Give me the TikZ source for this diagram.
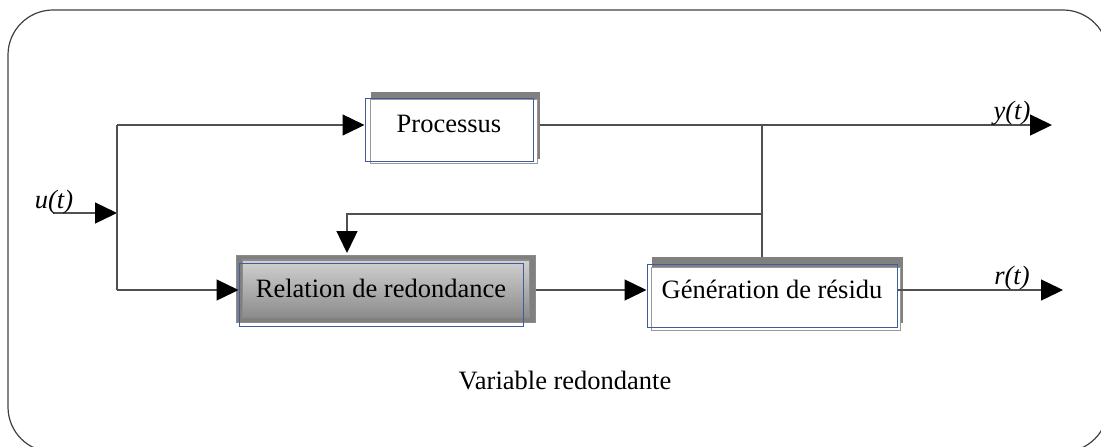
\documentclass[tikz,border=0pt]{standalone}
\usepackage{fontspec}
\setmainfont{Liberation Serif}
\usetikzlibrary{arrows.meta, backgrounds}

\definecolor{blueline}{RGB}{64,92,156}
\definecolor{wiregray}{RGB}{80,80,80}
\definecolor{shadowgray}{RGB}{128,128,128}

\begin{document}
\begin{tikzpicture}[
  x=0.5pt, y=-0.5pt,
  every node/.style={font=\fontsize{13.25}{15}\selectfont},
  wire/.style={draw=wiregray, line width=0.7pt},
  arrowline/.style={wire, -{Triangle[length=11pt, width=10.5pt, color=black]}},
  blockbox/.style={draw=blueline, line width=0.5pt, minimum height=31.5pt, inner sep=0pt, text height=9pt, text depth=6.5pt},
  shadowbox/.style={fill=shadowgray},
  plainbox/.style={draw=black!40, fill=white, line width=0.6pt},
  shadebox/.style={draw=black!45, line width=0.6pt, top color=black!18, middle color=white, bottom color=black!45},
  sig/.style={font=\fontsize{13.25}{15}\selectfont\itshape, inner sep=0pt}
]
\useasboundingbox (0,0) rectangle (1101,446);
\draw[black!75, line width=0.6pt, rounded corners=22.5pt] (8,10) rectangle (1108,452);

% blocks
\node[blockbox, minimum width=84pt] (proc) at (449,129.5) {Processus};
\node[blockbox, minimum width=142pt] (rel) at (381,295) {Relation de redondance};
\node[blockbox, minimum width=125pt] (gen) at (772,295.5) {Génération de résidu};

% shadows and fills behind the blocks
\begin{scope}[on background layer]
  \fill[shadowbox] ([shift={(6,-6)}]proc.north west) rectangle ([shift={(6,-3)}]proc.south east);
  \draw[plainbox] ([shift={(6,2)}]proc.north west) rectangle ([shift={(4,2)}]proc.south east);
  \filldraw[shadowbox, draw=black!45] ([shift={(-2,-8)}]rel.north west) rectangle ([shift={(12,-5)}]rel.south east);
  \draw[shadebox] ([shift={(4,-3)}]rel.north west) rectangle ([shift={(6,-10)}]rel.south east);
  \fill[shadowbox] ([shift={(5,-7)}]gen.north west) rectangle ([shift={(5,-5)}]gen.south east);
  \draw[plainbox] ([shift={(5,4)}]gen.north west) rectangle ([shift={(3,3)}]gen.south east);
\end{scope}

% connectors
\coordinate (uin) at (53,213);
\coordinate (split) at (117,213);
\coordinate (uptop) at (117,125);
\coordinate (upbot) at (117,290);
\coordinate (tap) at (762,125);
\coordinate (fb) at (762,214);
\coordinate (fbl) at (347,214);
\coordinate (yout) at (1052,125);
\coordinate (rout) at (1063,290);

\draw[arrowline] (uin) -- (split);
\draw[wire] (uptop) -- (upbot);
\draw[arrowline] (uptop) -- (uptop -| proc.west);
\draw[arrowline] (upbot) -- (upbot -| rel.west);
\draw[arrowline] ([xshift=3pt]uptop -| proc.east) -- (yout);
\draw[wire] (tap) -- ([yshift=3.5pt]tap |- gen.north);
\draw[arrowline] (fb) -- (fbl) -- ([yshift=5pt]fbl |- rel.north);
\draw[arrowline] ([xshift=6pt]upbot -| rel.east) -- (upbot -| gen.west);
\draw[arrowline] (upbot -| gen.east) -- (rout);

% labels
\node[sig] (ulab) at (54,202) {u(t)};
\node[sig] (ylab) at (1012,113) {y(t)};
\node[sig] (rlab) at (1012,278) {r(t)};
\node (note) at (565,380) {Variable redondante};
\end{tikzpicture}
\end{document}
